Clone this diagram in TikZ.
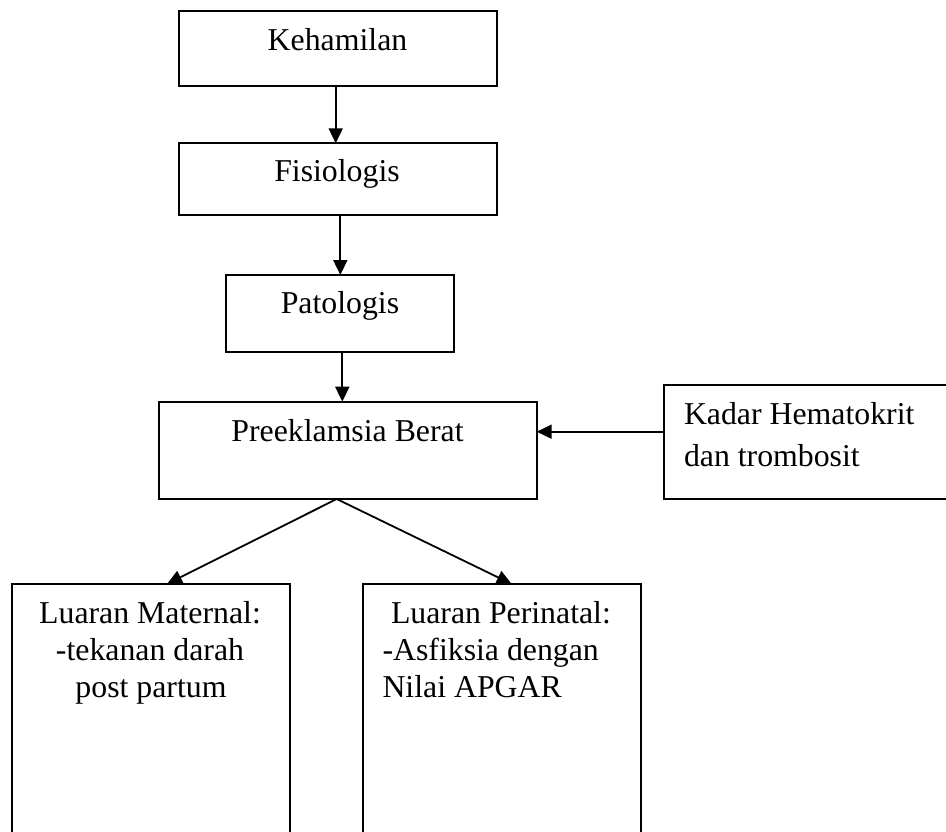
\documentclass[tikz,border=0pt]{standalone}
\usepackage{fontspec}
\setmainfont{Liberation Serif}
\usetikzlibrary{arrows.meta,calc}
\begin{document}
\begin{tikzpicture}[x=1pt,y=-1pt,
  box/.style={draw=black,line width=1.9pt,rectangle,inner sep=0pt,outer sep=0pt,fill=none},
  txt/.style={inner sep=0pt,outer sep=0pt,font=\fontsize{31.8}{37}\selectfont},
  arr/.style={line width=1.8pt,-{Triangle[width=14pt,length=15pt]}}]
\useasboundingbox[fill=white] (0,0) rectangle (946,832);
% boxes
\node[box,minimum width=317.4pt,minimum height=74.7pt] (keh) at (338,48.35) {};
\node[box,minimum width=317.4pt,minimum height=71.7pt] (fis) at (338,179.15) {};
\node[box,minimum width=228.3pt,minimum height=77.3pt] (pat) at (340.15,313.65) {};
\node[box,minimum width=377.7pt,minimum height=97.3pt] (pre) at (347.85,450.35) {};
\node[box,minimum width=296pt,minimum height=114.3pt] (kad) at (812,442.15) {};
\node[box,minimum width=278pt,minimum height=266pt] (mat) at (151,717) {};
\node[box,minimum width=278.3pt,minimum height=266pt] (per) at (501.85,717) {};
% texts
\node[txt,anchor=base] (kehT) at (337.5,50.5) {Kehamilan};
\node[txt,anchor=base] (fisT) at (337,182) {Fisiologis};
\node[txt,anchor=base] (patT) at (340,313.5) {Patologis};
\node[txt,anchor=base] (preT) at (347.5,441.7) {Preeklamsia Berat};
\node[txt,anchor=base west] (kadA) at (684,424) {Kadar Hematokrit};
\node[txt,anchor=base west] (kadB) at (684,466) {dan trombosit};
\node[txt,anchor=base] (matA) at (150,623) {Luaran Maternal:};
\node[txt,anchor=base] (matB) at (150,660) {-tekanan darah};
\node[txt,anchor=base] (matC) at (151,697) {post partum};
\node[txt,anchor=base west] (perA) at (391,623) {Luaran Perinatal:};
\node[txt,anchor=base west] (perB) at (382.5,660) {-Asfiksia dengan};
\node[txt,anchor=base west] (perC) at (382.5,697) {Nilai APGAR};
% connector anchors
\coordinate (apex) at (336.7,499);
\coordinate (tm) at (167,584);
\coordinate (tp) at (511.7,584);
% arrows
\draw[arr] (keh.south -| 335.7,0) -- (fis.north -| 335.7,0);
\draw[arr] (fis.south -| 340.3,0) -- (pat.north -| 340.3,0);
\draw[arr] (pat.south -| 342.3,0) -- (pre.north -| 342.3,0);
\draw[arr] (kad.west |- 0,431.7) -- (pre.east |- 0,431.7);
\draw[arr] (apex) -- (tm);
\draw[arr] (apex) -- (tp);
\end{tikzpicture}
\end{document}
